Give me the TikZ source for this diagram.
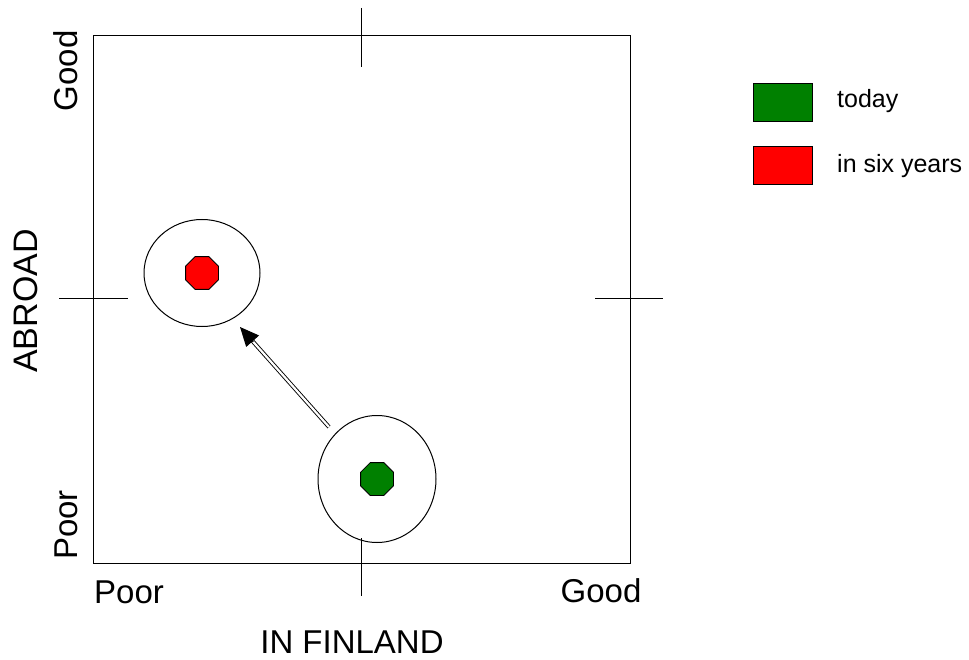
\documentclass[tikz,border=0pt]{standalone}
\usepackage{fontspec}
\setmainfont{Liberation Sans}
\usetikzlibrary{shapes.geometric,arrows.meta,calc}
\tikzset{
  axis/.style={line width=1pt},
  ring/.style={ellipse, draw, line width=1pt, inner sep=0pt},
  octo/.style={regular polygon, regular polygon sides=8, draw, line width=0.8pt, inner sep=0pt, minimum size=35.5pt},
  axlabel/.style={font=\fontsize{33}{33}\selectfont, inner sep=0pt},
  leglabel/.style={font=\fontsize{25}{25}\selectfont, anchor=west, inner sep=0pt},
  legbox/.style={draw, line width=0.8pt, minimum width=59pt, minimum height=38pt, inner sep=0pt},
}
\definecolor{dgreen}{RGB}{0,128,0}
\begin{document}
\begin{tikzpicture}[x=1pt,y=-1pt]
\useasboundingbox[fill=white] (0,0) rectangle (969,660);
% frame
\node[draw, line width=1pt, minimum width=537pt, minimum height=528pt, inner sep=0pt, anchor=north west] (frame) at (93,35) {};
% ticks
\coordinate (tt1) at (361,8); \coordinate (tt2) at (361,67);
\coordinate (bt1) at (361,538); \coordinate (bt2) at (361,596);
\coordinate (lt1) at (59,299); \coordinate (lt2) at (128,299);
\coordinate (rt1) at (595,299); \coordinate (rt2) at (663,299);
\draw[axis] (tt1) -- (tt2);
\draw[axis] (bt1) -- (bt2);
\draw[axis] (lt1) -- (lt2);
\draw[axis] (rt1) -- (rt2);
% labels
\node[axlabel, rotate=90] (ygood) at (66,71) {Good};
\node[axlabel, rotate=90] (ypoor) at (66,525) {Poor};
\node[axlabel] (xpoor) at (129,592) {Poor};
\node[axlabel] (xgood) at (601,591) {Good};
\node[axlabel] (xlab) at (352,642) {IN FINLAND};
\node[axlabel, font=\fontsize{34}{34}\selectfont, rotate=90] (ylab) at (26,301) {ABROAD};
% ellipses
\node[ring, minimum width=116pt, minimum height=107pt] (redring) at (202,273) {};
\node[ring, minimum width=118pt, minimum height=127pt] (greenring) at (377,479) {};
\node[octo, fill=red] (redoct) at (redring.center) {};
\node[octo, fill=dgreen] (greenoct) at (greenring.center) {};
% arrow
\coordinate (atail) at (329,427);
\coordinate (ahead) at (240,327);
\draw[double, double distance=2.2pt, line width=0.9pt, shorten >=14pt] (atail) -- (ahead);
\draw[line width=1pt, -{Triangle[length=19pt,width=17pt]}] ($(ahead)!20pt!(atail)$) -- (ahead);
% legend
\node[legbox, fill=dgreen] (lg1) at (782.5,102) {};
\node[legbox, fill=red] (lg2) at (782.5,165) {};
\node[leglabel] (lt1t) at (837,101) {today};
\node[leglabel] (lt2t) at (837,166) {in six years};
\end{tikzpicture}
\end{document}
